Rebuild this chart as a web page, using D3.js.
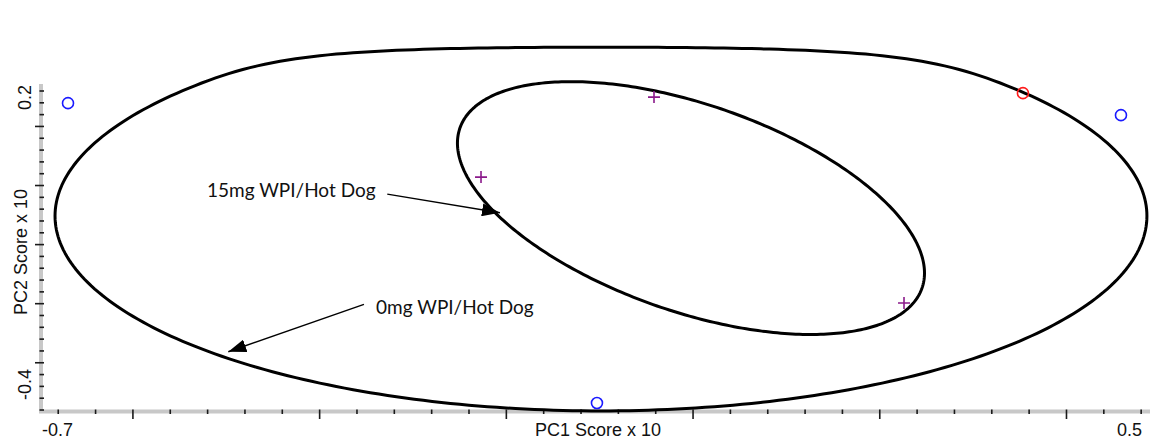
<!DOCTYPE html>
<html>
<head>
<meta charset="utf-8">
<script src="https://cdn.jsdelivr.net/npm/d3@7"></script>
<style>
  body { margin: 0; background: #fff; }
  svg { display: block; }
</style>
</head>
<body>
<div id="chart"></div>
<script>
// PC scores (x 10)
var blueX = [-0.669, 0.4589, -0.1024];
var blueY = [0.1386, 0.1183, -0.369];
var redX = [0.3539];
var redY = [0.1555];
var plusX = [-0.0413, -0.2266, 0.2265];
var plusY = [0.1488, 0.0134, -0.1998];

// confidence ellipses: centre and the two semi-axis vectors, in score units
var ellipseNames = ["0mg WPI/Hot Dog", "15mg WPI/Hot Dog"];
var ellipseCX = [-0.0981, -0.0017];
var ellipseCY = [-0.0524, -0.0390];
var ellipseUX = [0.5848, 0.2475];
var ellipseUY = [0, -0.1354];
var ellipseVX = [0, -0.0363];
var ellipseVY = [-0.330, -0.1657];
// the outline flattens softly against the top of the plotting frame
var frameTop = 0.1712;
var frameSoft = 0.0677;

// annotation arrows (text anchor, arrow start, arrow tip)
var noteText = ["15mg WPI/Hot Dog", "0mg WPI/Hot Dog"];
var noteTextX = [-0.5201, -0.339];
var noteTextY = [-0.0204, -0.2184];
var noteFromX = [-0.327, -0.352];
var noteFromY = [-0.0154, -0.202];
var noteToX = [-0.2063, -0.4973];
var noteToY = [-0.047, -0.2822];

// axes
var xDomain = [-0.699, 0.49];
var yDomain = [-0.3825, 0.171];
var xMajor = [-0.6, -0.4, -0.2, 0, 0.2, 0.4];
var yMajor = [0.1, 0, -0.1, -0.2, -0.3];
var xEndLabels = ["-0.7", "0.5"];
var yEndLabels = ["0.2", "-0.4"];
var xTitle = "PC1 Score x 10";
var yTitle = "PC2 Score x 10";

const W = 1153, H = 440;
const svg = d3.select("#chart").append("svg")
  .attr("width", W).attr("height", H);

const x = d3.scaleLinear().domain(xDomain).range([40, 1150]);
const y = d3.scaleLinear().domain(yDomain).range([411, 84]);

// plot area clip
svg.append("defs").append("clipPath").attr("id", "plotClip")
  .append("rect")
  .attr("x", 43).attr("y", 0)
  .attr("width", x.range()[1] - 43).attr("height", 413);

// minor ticks every 0.04 (x) and 0.02 (y)
const xMinor = d3.range(-17, 13).map(i => +(i * 0.04).toFixed(2)).filter(v => !xMajor.includes(v));
const yMinor = d3.range(-19, 9).map(i => +(i * 0.02).toFixed(2)).filter(v => !yMajor.includes(v));

// grey axis bands
svg.append("line")
  .attr("x1", 41).attr("x2", 41)
  .attr("y1", y.range()[1]).attr("y2", 413)
  .attr("stroke", "#c8c8c8").attr("stroke-width", 4);
svg.append("line")
  .attr("x1", 39).attr("x2", x.range()[1])
  .attr("y1", 411.5).attr("y2", 411.5)
  .attr("stroke", "#c8c8c8").attr("stroke-width", 4);

function styleTicks(g) {
  g.select(".domain").remove();
  g.selectAll("text").remove();
  g.selectAll("line").attr("stroke", "#1a1a1a").attr("stroke-width", 1.6);
}

svg.append("g").attr("transform", "translate(44,0)")
  .call(d3.axisLeft(y).tickValues(yMinor).tickSize(4.5)).call(styleTicks);
svg.append("g").attr("transform", "translate(44,0)")
  .call(d3.axisLeft(y).tickValues(yMajor).tickSize(9)).call(styleTicks);
svg.append("g").attr("transform", "translate(0,409.5)")
  .call(d3.axisBottom(x).tickValues(xMinor).tickSize(4.5)).call(styleTicks);
svg.append("g").attr("transform", "translate(0,409.5)")
  .call(d3.axisBottom(x).tickValues(xMajor).tickSize(9.5)).call(styleTicks);

// end labels and titles
const axisFont = "'Liberation Sans', Arial, sans-serif";
svg.append("text").attr("x", x.range()[0] + 2).attr("y", 436)
  .attr("font-family", axisFont).attr("font-size", 18).attr("fill", "#111")
  .text(xEndLabels[0]);
svg.append("text").attr("x", 1142).attr("y", 436)
  .attr("text-anchor", "end")
  .attr("font-family", axisFont).attr("font-size", 18).attr("fill", "#111")
  .text(xEndLabels[1]);
svg.append("text").attr("x", (x.range()[0] + x.range()[1]) / 2 + 3).attr("y", 436)
  .attr("text-anchor", "middle")
  .attr("font-family", axisFont).attr("font-size", 18).attr("fill", "#111")
  .text(xTitle);

svg.append("text")
  .attr("transform", "translate(31,85) rotate(-90)")
  .attr("text-anchor", "end")
  .attr("font-family", axisFont).attr("font-size", 18).attr("fill", "#111")
  .text(yEndLabels[0]);
svg.append("text")
  .attr("transform", "translate(31,400) rotate(-90)")
  .attr("text-anchor", "start")
  .attr("font-family", axisFont).attr("font-size", 18).attr("fill", "#111")
  .text(yEndLabels[1]);
svg.append("text")
  .attr("transform", "translate(27,252) rotate(-90)")
  .attr("text-anchor", "middle")
  .attr("font-family", axisFont).attr("font-size", 18).attr("fill", "#111")
  .text(yTitle);

// ellipses
function softTop(v) {
  if (v <= frameTop) return v;
  return frameTop + frameSoft * Math.tanh((v - frameTop) / frameSoft);
}
const ellipseLine = d3.line().x(d => x(d[0])).y(d => y(d[1])).curve(d3.curveLinearClosed);
const plot = svg.append("g").attr("clip-path", "url(#plotClip)");
ellipseNames.forEach(function (name, i) {
  const pts = d3.range(0, 360).map(function (k) {
    const t = k / 360 * 2 * Math.PI;
    const px = ellipseCX[i] + ellipseUX[i] * Math.cos(t) + ellipseVX[i] * Math.sin(t);
    const py = ellipseCY[i] + ellipseUY[i] * Math.cos(t) + ellipseVY[i] * Math.sin(t);
    return [px, softTop(py)];
  });
  plot.append("path")
    .datum(pts)
    .attr("class", "ellipse")
    .attr("d", ellipseLine)
    .attr("fill", "none")
    .attr("stroke", "#000")
    .attr("stroke-width", 3)
    .attr("stroke-linejoin", "round");
});

// arrows
svg.select("defs").append("marker")
  .attr("id", "arrowhead")
  .attr("viewBox", "0 0 18 13")
  .attr("refX", 18).attr("refY", 6.5)
  .attr("markerWidth", 18).attr("markerHeight", 13)
  .attr("markerUnits", "userSpaceOnUse")
  .attr("orient", "auto")
  .append("path").attr("d", "M0,0 L18,6.5 L0,13 Z").attr("fill", "#000");

const noteFont = "Lato, 'Open Sans', sans-serif";
noteText.forEach(function (t, i) {
  svg.append("line")
    .attr("x1", x(noteFromX[i])).attr("y1", y(noteFromY[i]))
    .attr("x2", x(noteToX[i])).attr("y2", y(noteToY[i]))
    .attr("stroke", "#000").attr("stroke-width", 1.5)
    .attr("marker-end", "url(#arrowhead)");
  svg.append("text")
    .attr("x", x(noteTextX[i])).attr("y", y(noteTextY[i]))
    .attr("font-family", noteFont).attr("font-size", 19).attr("fill", "#111")
    .text(t);
});

// points
const blue = blueX.map((v, i) => ({ x: v, y: blueY[i] }));
const red = redX.map((v, i) => ({ x: v, y: redY[i] }));
const plus = plusX.map((v, i) => ({ x: v, y: plusY[i] }));

svg.selectAll(".blue-pt").data(blue).enter().append("circle")
  .attr("class", "blue-pt")
  .attr("cx", d => x(d.x)).attr("cy", d => y(d.y)).attr("r", 5.5)
  .attr("fill", "none").attr("stroke", "#1a1aff").attr("stroke-width", 1.6);
svg.selectAll(".red-pt").data(red).enter().append("circle")
  .attr("class", "red-pt")
  .attr("cx", d => x(d.x)).attr("cy", d => y(d.y)).attr("r", 5.5)
  .attr("fill", "none").attr("stroke", "#ff1a1a").attr("stroke-width", 1.6);
svg.selectAll(".plus-pt").data(plus).enter().append("path")
  .attr("class", "plus-pt")
  .attr("transform", d => `translate(${x(d.x)},${y(d.y)})`)
  .attr("d", "M-6,0H6M0,-6V6")
  .attr("stroke", "#8b1a8b").attr("stroke-width", 1.6);
</script>
</body>
</html>
